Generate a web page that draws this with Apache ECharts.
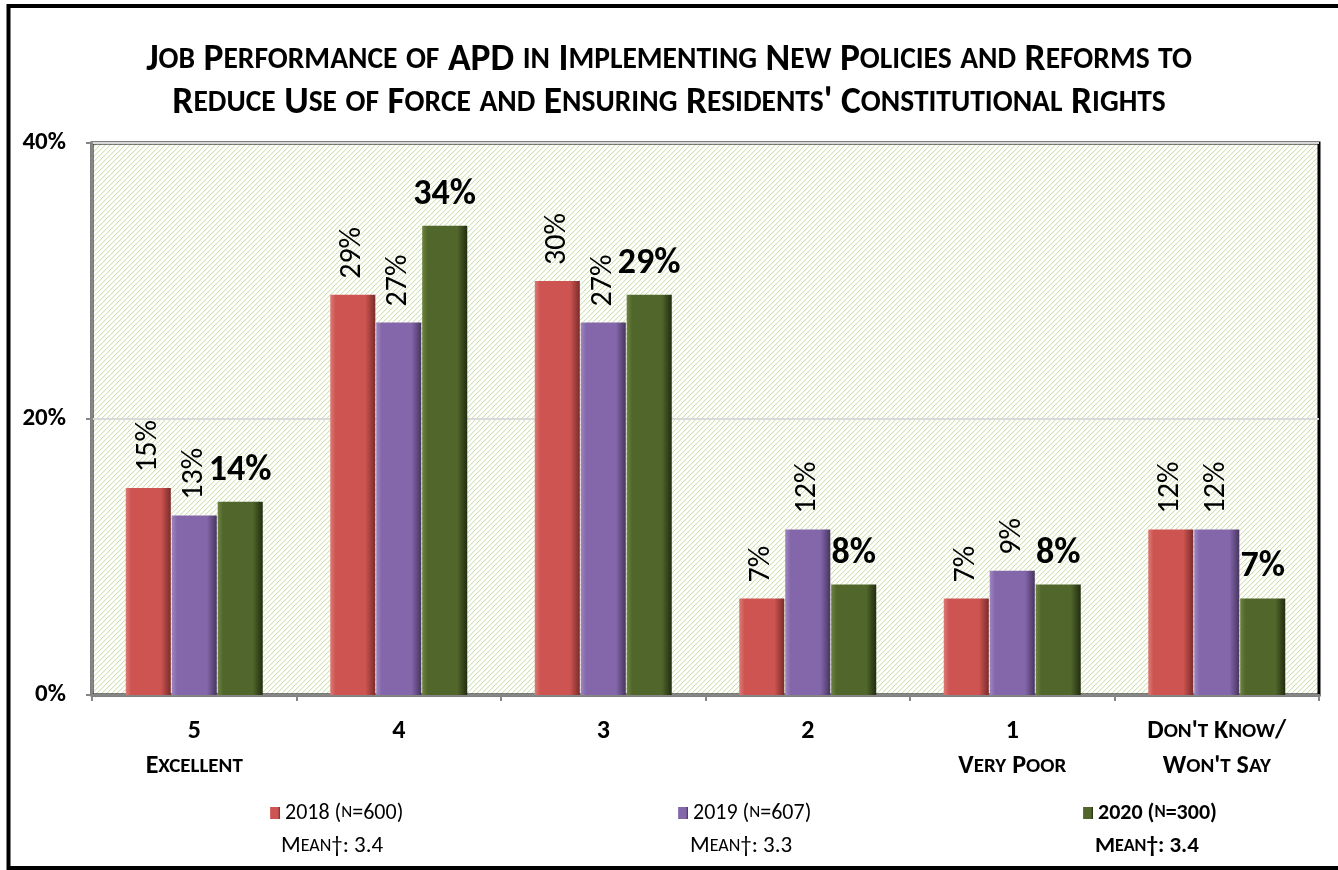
<!DOCTYPE html>
<html>
<head>
<meta charset="utf-8">
<style>
  html, body { margin: 0; padding: 0; background: #fff; }
  #chartBox { width: 1338px; height: 870px; }
</style>
<script src="https://cdn.jsdelivr.net/npm/echarts@6/dist/echarts.min.js"></script>
</head>
<body>
<div id="chartBox"></div>
<script>
// 数据
var categories = ['5\nExcellent', '4', '3', '2', '1\nVery Poor', "Don't Know/\nWon't Say"];
var seriesNames = ['2018 (n=600)', '2019 (n=607)', '2020 (n=300)'];
var means = ['3.4', '3.3', '3.4'];
var data2018 = [15, 29, 30, 7, 7, 12];
var data2019 = [13, 27, 27, 12, 9, 12];
var data2020 = [14, 34, 29, 8, 8, 7];
var yTicks = [0, 20, 40];

var FONT = 'Carlito, "Liberation Sans Narrow", "Liberation Sans", sans-serif';

// 小型大写字母：小写字母转成大写并用小号样式
function sc(str, big, small){
    var out = '', cur = null, buf = '';
    for(var i = 0; i < str.length; i++){
        var ch = str.charAt(i);
        var st = (ch !== ch.toUpperCase()) ? small : big;
        if(st !== cur){
            if(buf) out += '{' + cur + '|' + buf + '}';
            buf = '';
            cur = st;
        }
        buf += ch.toUpperCase();
    }
    if(buf) out += '{' + cur + '|' + buf + '}';
    return out;
}

// 斜线底纹
function makeHatch(){
    var c = document.createElement('canvas');
    c.width = 5; c.height = 5;
    var ctx = c.getContext('2d');
    ctx.fillStyle = '#ffffff';
    ctx.fillRect(0, 0, 5, 5);
    ctx.fillStyle = '#d3e2b6';
    for(var i = 0; i < 5; i++){
        ctx.fillRect(4 - i, i, 1, 1);
    }
    ctx.fillStyle = 'rgba(211,226,182,0.35)';
    for(var j = 0; j < 5; j++){
        ctx.fillRect((5 - j) % 5, j, 1, 1);
    }
    return c;
}

function barColor(light, base, dark){
    return new echarts.graphic.LinearGradient(0, 0, 1, 0, [
        {offset: 0, color: light},
        {offset: 0.12, color: base},
        {offset: 0.78, color: base},
        {offset: 1, color: dark}
    ]);
}

var colors = [
    barColor('#dc7a77', '#cd5451', '#7a2c2a'),
    barColor('#9e87c0', '#8467ab', '#47355f'),
    barColor('#6d8342', '#51662a', '#222d10')
];

var rotLabel = {
    show: true,
    position: 'top',
    rotate: 90,
    align: 'left',
    verticalAlign: 'middle',
    distance: 16,
    fontFamily: FONT,
    fontSize: 30,
    color: '#000',
    formatter: '{c}%'
};

var boldLabel = {
    show: true,
    position: 'top',
    distance: 13,
    fontFamily: FONT,
    fontSize: 36,
    fontWeight: 'bold',
    color: '#000',
    formatter: '{c}%'
};

function legendOpt(idx, left, bold){
    return {
        data: [seriesNames[idx]],
        left: left,
        top: 802,
        padding: 0,
        itemWidth: 10,
        itemHeight: 12,
        itemGap: 2,
        icon: 'rect',
        selectedMode: false,
        formatter: function(name){
            return sc(name, 'b', 's');
        },
        textStyle: {
            fontFamily: FONT,
            fontSize: 22,
            rich: {
                b: {fontSize: 22, fontFamily: FONT, fontWeight: bold ? 'bold' : 'normal', color: '#000'},
                s: {fontSize: 17, fontFamily: FONT, fontWeight: bold ? 'bold' : 'normal', color: '#000'}
            }
        }
    };
}

function meanText(idx, left, bold){
    var w = bold ? 'bold' : 'normal';
    return {
        type: 'text',
        left: left,
        top: 835,
        style: {
            text: sc('Mean', 'b', 's') + '{b|\u2020: ' + means[idx] + '}',
            fontSize: 23,
            fontFamily: FONT,
            fontWeight: w,
            fill: '#000',
            rich: {
                b: {fontSize: 23, fontFamily: FONT, fontWeight: w, fill: '#000'},
                s: {fontSize: 18, fontFamily: FONT, fontWeight: w, fill: '#000'}
            }
        }
    };
}

var titleText = sc('Job Performance of APD in Implementing New Policies and Reforms to', 'a', 'b') + '\n' +
    sc("Reduce Use of Force and Ensuring Residents' Constitutional Rights", 'a', 'b');

var option = {
    animation: false,
    title: {
        text: titleText,
        left: 'center',
        top: 34,
        textStyle: {
            fontFamily: FONT,
            rich: {
                a: {fontSize: 37.5, fontWeight: 'bold', fontFamily: FONT, color: '#000', lineHeight: 43},
                b: {fontSize: 29.5, fontWeight: 'bold', fontFamily: FONT, color: '#000', lineHeight: 43}
            }
        }
    },
    legend: [
        legendOpt(0, 270, false),
        legendOpt(1, 678, false),
        legendOpt(2, 1083, true)
    ],
    grid: {
        left: 92,
        right: 19,
        top: 143,
        bottom: 175,
        show: true,
        backgroundColor: {image: makeHatch(), repeat: 'repeat'},
        borderColor: '#000',
        borderWidth: 3
    },
    xAxis: {
        type: 'category',
        data: categories,
        axisLine: {show: true, lineStyle: {color: '#868686', width: 2}},
        axisTick: {show: true, length: 6, lineStyle: {color: '#868686', width: 2}},
        axisLabel: {
            margin: 19,
            interval: 0,
            formatter: function(val){
                var parts = val.split('\n');
                var first = /^\d$/.test(parts[0]) ? '{n|' + parts[0] + '}' : sc(parts[0], 'b', 's');
                if(parts.length > 1){
                    return first + '\n' + sc(parts[1], 'b', 's');
                }
                return first;
            },
            rich: {
                n: {fontSize: 26, fontWeight: 'bold', fontFamily: FONT, color: '#000', lineHeight: 35},
                b: {fontSize: 26, fontWeight: 'bold', fontFamily: FONT, color: '#000', lineHeight: 35},
                s: {fontSize: 21, fontWeight: 'bold', fontFamily: FONT, color: '#000', lineHeight: 35}
            }
        }
    },
    yAxis: {
        type: 'value',
        min: yTicks[0],
        max: yTicks[yTicks.length - 1],
        interval: yTicks[1] - yTicks[0],
        axisLine: {show: true, lineStyle: {color: '#868686', width: 2}},
        axisTick: {show: true, length: 6, lineStyle: {color: '#868686', width: 2}},
        splitLine: {show: true, lineStyle: {color: '#d9d9d9', width: 2}},
        axisLabel: {
            margin: 26,
            fontFamily: FONT,
            fontSize: 25,
            fontWeight: 'bold',
            color: '#000',
            formatter: '{value}%'
        }
    },
    graphic: [
        {
            type: 'rect',
            shape: {x: 8.5, y: 6, width: 1400, height: 862},
            style: {fill: 'none', stroke: '#000', lineWidth: 4},
            silent: true
        },
        meanText(0, 281, false),
        meanText(1, 690, false),
        meanText(2, 1095, true)
    ],
    series: [
        {
            name: seriesNames[0],
            type: 'bar',
            data: data2018,
            barGap: '2%',
            barCategoryGap: '33%',
            itemStyle: {color: colors[0]},
            label: rotLabel
        },
        {
            name: seriesNames[1],
            type: 'bar',
            data: data2019,
            barGap: '2%',
            barCategoryGap: '33%',
            itemStyle: {color: colors[1]},
            label: rotLabel
        },
        {
            name: seriesNames[2],
            type: 'bar',
            data: data2020,
            barGap: '2%',
            barCategoryGap: '33%',
            itemStyle: {color: colors[2]},
            label: boldLabel
        }
    ]
};

var _chart = echarts.init(document.getElementById('chartBox'));
_chart.setOption(option);
</script>
</body>
</html>
